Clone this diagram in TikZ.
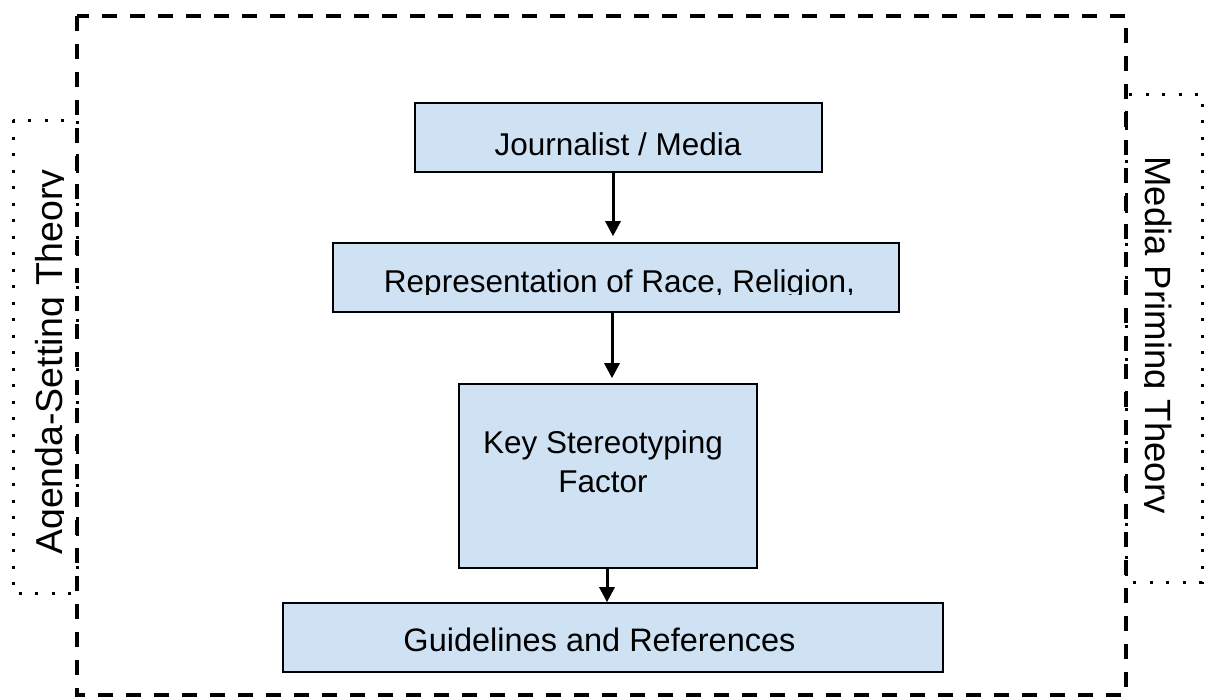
\documentclass[tikz,border=0pt]{standalone}
\usepackage{fontspec}
\setmainfont{Liberation Sans}
\usepackage{graphicx}
\usetikzlibrary{arrows.meta}
\definecolor{boxblue}{RGB}{207,226,243}
\newcommand{\sizedtext}[2]{{\fontsize{#1}{#1}\selectfont #2}}
\tikzset{
  flowbox/.style={draw=black, line width=1.6pt, fill=boxblue, inner sep=0pt},
  flowarrow/.style={line width=3pt, -{Triangle[width=15pt,length=15pt]}},
  framedash/.style={line width=3.2pt, dash pattern=on 15pt off 13pt},
  framedot/.style={line width=3pt, dash pattern=on 3pt off 13.5pt},
  lbl/.style={inner sep=0pt, anchor=base, text=black},
}
\begin{document}
\begin{tikzpicture}[x=1pt,y=-1pt]
\useasboundingbox (0,0) rectangle (1208,697);
\fill[white] (0,0) rectangle (1208,697);

% side dotted boxes
\draw[framedot] (13,120) rectangle (77,593);
\draw[framedot] (1126,94) rectangle (1202,582);

% outer dashed frame
\draw[framedash] (77,16) rectangle (1126,695);

% boxes
\node[flowbox, minimum width=407pt, minimum height=69pt] (b1) at (618.5,137.5) {};
\node[flowbox, minimum width=566pt, minimum height=69pt] (b2) at (616,277.5) {};
\node[flowbox, minimum width=298pt, minimum height=184pt] (b3) at (608,476) {};
\node[flowbox, minimum width=660pt, minimum height=69pt] (b4) at (613,637.5) {};

% box texts
\node[lbl] (t1) at (618,155) {\sizedtext{31.5}{Journalist / Media}};
\begin{scope}
\clip (0,0) rectangle (1208,294);
\node[lbl] (t2) at (619.5,292) {\sizedtext{31.5}{Representation of Race, Religion,}};
\end{scope}
\node[lbl] (t3) at (603,453) {\fontsize{31.5}{39}\selectfont\begin{tabular}[t]{@{}c@{}}Key Stereotyping\\Factor\end{tabular}};
\begin{scope}
\clip (0,0) rectangle (1208,652.5);
\node[lbl] (t4) at (599.5,651) {\sizedtext{32.5}{Guidelines and References}};
\end{scope}

% side texts
\begin{scope}
\clip (0,0) rectangle (63,697);
\node[lbl, rotate=90] (tl) at (62,362) {\sizedtext{37.5}{Agenda-Setting Theory}};
\end{scope}
\begin{scope}
\clip (1144,0) rectangle (1208,697);
\node[lbl, rotate=-90] (tr) at (1145,335) {\sizedtext{36.5}{Media Priming Theory}};
\end{scope}

% arrows
\coordinate (c1) at (613,0);
\coordinate (c2) at (612,0);
\coordinate (c3) at (607,0);
\draw[flowarrow, shorten >=6pt] (b1.south -| c1) -- (b2.north -| c1);
\draw[flowarrow, shorten >=5pt] (b2.south -| c2) -- (b3.north -| c2);
\draw[flowarrow] (b3.south -| c3) -- (b4.north -| c3);
\end{tikzpicture}
\end{document}
